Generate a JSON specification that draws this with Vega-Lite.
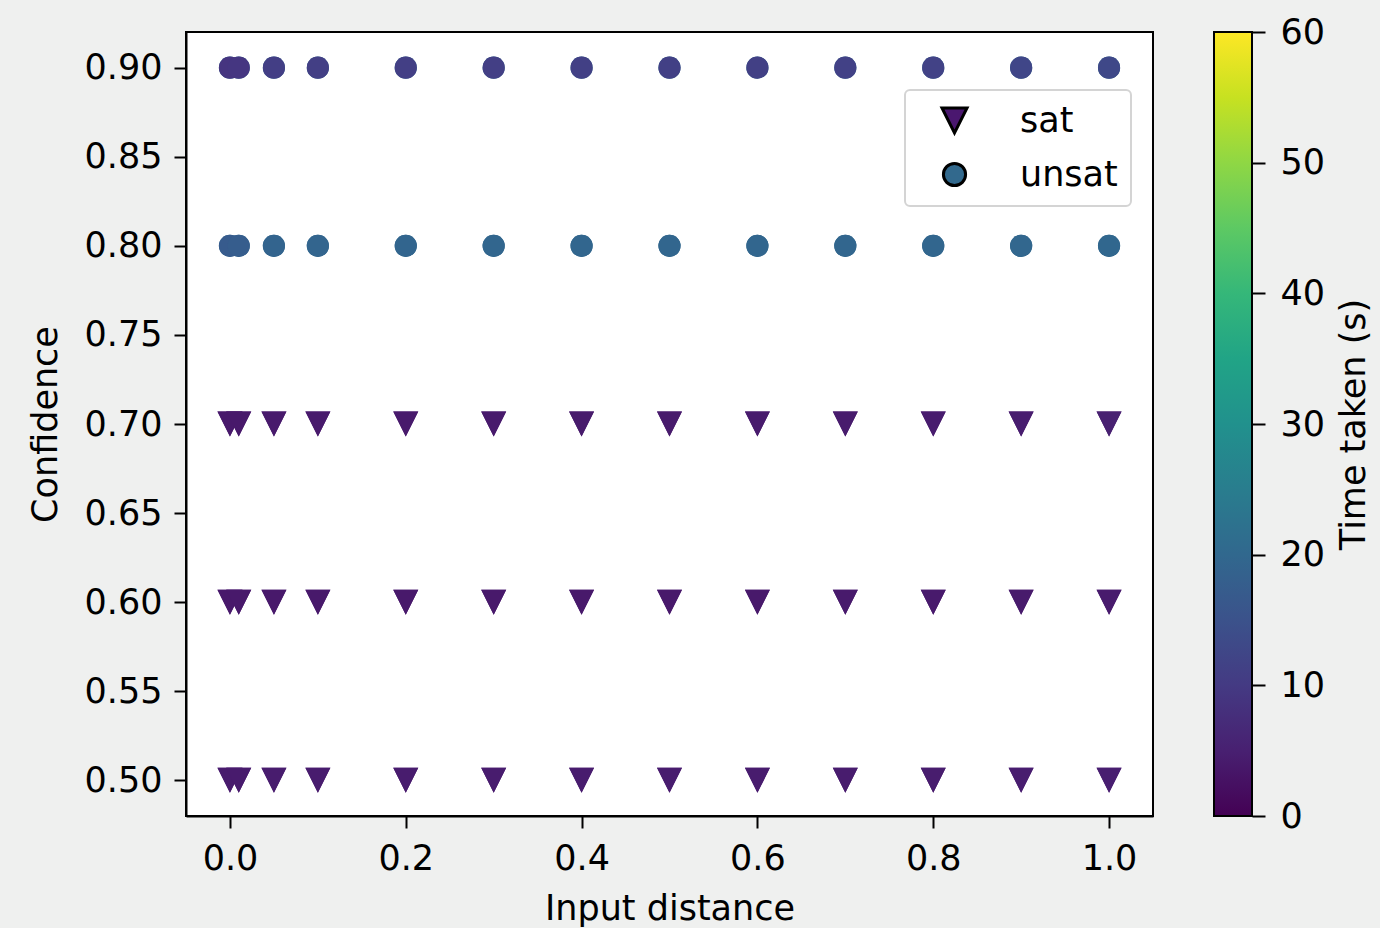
{
  "$schema": "https://vega.github.io/schema/vega-lite/v6.json",
  "width": 967,
  "height": 784,
  "autosize": {"type": "none"},
  "padding": {"left": 186, "top": 32, "right": 227, "bottom": 112},
  "background": "#eff0ef",
  "config": {
    "font": "DejaVu Sans",
    "view": {"stroke": "black", "strokeWidth": 2, "fill": "white"},
    "legend": {"symbolFillColor": "#888888", "symbolOpacity": 1, "strokeWidth": 2},
    "axis": {
      "grid": false,
      "labelFontSize": 35,
      "titleFontSize": 35,
      "labelColor": "black",
      "titleColor": "black",
      "titleFontWeight": "normal",
      "tickSize": 12,
      "tickWidth": 2,
      "tickColor": "black",
      "domainColor": "black",
      "domainWidth": 2
    }
  },
  "data": {
    "values": [
      {"d": 0.0, "c": 0.5, "r": "sat", "t": 4.2}, {"d": 0.01, "c": 0.5, "r": "sat", "t": 4.2},
      {"d": 0.05, "c": 0.5, "r": "sat", "t": 4.4}, {"d": 0.1, "c": 0.5, "r": "sat", "t": 4.4},
      {"d": 0.2, "c": 0.5, "r": "sat", "t": 4.4}, {"d": 0.3, "c": 0.5, "r": "sat", "t": 4.4},
      {"d": 0.4, "c": 0.5, "r": "sat", "t": 4.4}, {"d": 0.5, "c": 0.5, "r": "sat", "t": 4.4},
      {"d": 0.6, "c": 0.5, "r": "sat", "t": 4.4}, {"d": 0.7, "c": 0.5, "r": "sat", "t": 4.4},
      {"d": 0.8, "c": 0.5, "r": "sat", "t": 4.5}, {"d": 0.9, "c": 0.5, "r": "sat", "t": 4.6},
      {"d": 1.0, "c": 0.5, "r": "sat", "t": 4.8},
      {"d": 0.0, "c": 0.6, "r": "sat", "t": 3.8}, {"d": 0.01, "c": 0.6, "r": "sat", "t": 3.8},
      {"d": 0.05, "c": 0.6, "r": "sat", "t": 3.9}, {"d": 0.1, "c": 0.6, "r": "sat", "t": 3.9},
      {"d": 0.2, "c": 0.6, "r": "sat", "t": 3.9}, {"d": 0.3, "c": 0.6, "r": "sat", "t": 3.9},
      {"d": 0.4, "c": 0.6, "r": "sat", "t": 3.9}, {"d": 0.5, "c": 0.6, "r": "sat", "t": 3.9},
      {"d": 0.6, "c": 0.6, "r": "sat", "t": 3.9}, {"d": 0.7, "c": 0.6, "r": "sat", "t": 4.0},
      {"d": 0.8, "c": 0.6, "r": "sat", "t": 4.0}, {"d": 0.9, "c": 0.6, "r": "sat", "t": 4.1},
      {"d": 1.0, "c": 0.6, "r": "sat", "t": 4.2},
      {"d": 0.0, "c": 0.7, "r": "sat", "t": 3.9}, {"d": 0.01, "c": 0.7, "r": "sat", "t": 3.9},
      {"d": 0.05, "c": 0.7, "r": "sat", "t": 4.0}, {"d": 0.1, "c": 0.7, "r": "sat", "t": 4.0},
      {"d": 0.2, "c": 0.7, "r": "sat", "t": 4.0}, {"d": 0.3, "c": 0.7, "r": "sat", "t": 4.0},
      {"d": 0.4, "c": 0.7, "r": "sat", "t": 4.1}, {"d": 0.5, "c": 0.7, "r": "sat", "t": 4.1},
      {"d": 0.6, "c": 0.7, "r": "sat", "t": 4.2}, {"d": 0.7, "c": 0.7, "r": "sat", "t": 4.3},
      {"d": 0.8, "c": 0.7, "r": "sat", "t": 4.4}, {"d": 0.9, "c": 0.7, "r": "sat", "t": 4.6},
      {"d": 1.0, "c": 0.7, "r": "sat", "t": 5.2},
      {"d": 0.0, "c": 0.8, "r": "unsat", "t": 17.0}, {"d": 0.01, "c": 0.8, "r": "unsat", "t": 17.3},
      {"d": 0.05, "c": 0.8, "r": "unsat", "t": 19.0}, {"d": 0.1, "c": 0.8, "r": "unsat", "t": 19.2},
      {"d": 0.2, "c": 0.8, "r": "unsat", "t": 19.3}, {"d": 0.3, "c": 0.8, "r": "unsat", "t": 19.4},
      {"d": 0.4, "c": 0.8, "r": "unsat", "t": 19.4}, {"d": 0.5, "c": 0.8, "r": "unsat", "t": 19.5},
      {"d": 0.6, "c": 0.8, "r": "unsat", "t": 19.5}, {"d": 0.7, "c": 0.8, "r": "unsat", "t": 19.6},
      {"d": 0.8, "c": 0.8, "r": "unsat", "t": 19.6}, {"d": 0.9, "c": 0.8, "r": "unsat", "t": 19.7},
      {"d": 1.0, "c": 0.8, "r": "unsat", "t": 19.8},
      {"d": 0.0, "c": 0.9, "r": "unsat", "t": 9.0}, {"d": 0.01, "c": 0.9, "r": "unsat", "t": 9.3},
      {"d": 0.05, "c": 0.9, "r": "unsat", "t": 10.8}, {"d": 0.1, "c": 0.9, "r": "unsat", "t": 10.9},
      {"d": 0.2, "c": 0.9, "r": "unsat", "t": 11.0}, {"d": 0.3, "c": 0.9, "r": "unsat", "t": 11.0},
      {"d": 0.4, "c": 0.9, "r": "unsat", "t": 11.1}, {"d": 0.5, "c": 0.9, "r": "unsat", "t": 11.1},
      {"d": 0.6, "c": 0.9, "r": "unsat", "t": 11.2}, {"d": 0.7, "c": 0.9, "r": "unsat", "t": 11.3},
      {"d": 0.8, "c": 0.9, "r": "unsat", "t": 11.6}, {"d": 0.9, "c": 0.9, "r": "unsat", "t": 12.4},
      {"d": 1.0, "c": 0.9, "r": "unsat", "t": 12.8}
    ]
  },
  "layer": [
    {
      "mark": {"type": "point", "filled": true, "opacity": 1},
      "encoding": {
        "x": {"field": "d", "type": "quantitative", "scale": {"domain": [-0.05, 1.05], "nice": false, "zero": false}},
        "y": {"field": "c", "type": "quantitative", "scale": {"domain": [0.48, 0.92], "nice": false, "zero": false}, "axis": null},
        "fill": {
          "field": "r", "type": "nominal",
          "scale": {"domain": ["sat", "unsat"], "range": ["#4a176f", "#32698d"]},
          "legend": {"title": null}
        },
        "shape": {
          "field": "r", "type": "nominal",
          "scale": {"domain": ["sat", "unsat"], "range": ["M-1,-1L1,-1L0,1Z", "circle"]},
          "legend": {
            "title": null,
            "orient": "none",
            "legendX": 719,
            "legendY": 58,
            "fillColor": "white",
            "strokeColor": "#d4d4d4",
            "cornerRadius": 5,
            "padding": 13,
            "symbolStrokeColor": "black",
            "symbolStrokeWidth": 3,
            "symbolOffset": 19,
            "labelFontSize": 35,
            "labelColor": "black",
            "labelOffset": 48,
            "rowPadding": 18
          }
        },
        "size": {
          "field": "r", "type": "nominal",
          "scale": {"domain": ["sat", "unsat"], "range": [625, 491]},
          "legend": {"title": null}
        }
      }
    },
    {
      "mark": {"type": "point", "filled": true, "opacity": 1},
      "encoding": {
        "x": {
          "field": "d", "type": "quantitative",
          "scale": {"domain": [-0.05, 1.05], "nice": false, "zero": false},
          "axis": {"values": [0, 0.2, 0.4, 0.6, 0.8, 1.0], "format": ".1f", "title": "Input distance", "labelPadding": 13, "titlePadding": 15}
        },
        "y": {
          "field": "c", "type": "quantitative",
          "scale": {"domain": [0.48, 0.92], "nice": false, "zero": false},
          "axis": {"orient": "left", "values": [0.5, 0.55, 0.6, 0.65, 0.7, 0.75, 0.8, 0.85, 0.9], "format": ".2f", "title": "Confidence", "labelPadding": 12, "titlePadding": 21}
        },
        "color": {
          "field": "t", "type": "quantitative",
          "scale": {"scheme": "viridis", "domain": [0, 60]},
          "legend": {
            "title": null,
            "orient": "none",
            "legendX": 1028,
            "legendY": 0,
            "type": "gradient",
            "direction": "vertical",
            "gradientLength": 784,
            "gradientThickness": 38,
            "gradientStrokeColor": "black",
            "gradientStrokeWidth": 2,
            "values": [0, 60],
            "labelOpacity": 0,
            "labelFontSize": 10,
            "padding": 0
          }
        },
        "shape": {"field": "r", "type": "nominal", "legend": {"title": null}},
        "size": {"field": "r", "type": "nominal", "legend": {"title": null}}
      }
    },
    {
      "mark": {"type": "rule", "opacity": 0},
      "encoding": {
        "y": {
          "field": "t", "type": "quantitative",
          "scale": {"domain": [0, 60], "nice": false, "zero": false},
          "axis": {
            "orient": "right",
            "offset": 99,
            "domain": false,
            "tickSize": 13,
            "values": [0, 10, 20, 30, 40, 50, 60],
            "labelPadding": 15,
            "labelAlign": "left",
            "labelBaseline": "middle",
            "title": "Time taken (s)",
            "titleAngle": 270,
            "titleBaseline": "top",
            "titlePadding": 12
          }
        }
      }
    }
  ],
  "resolve": {"scale": {"y": "independent"}, "axis": {"y": "independent"}}
}
